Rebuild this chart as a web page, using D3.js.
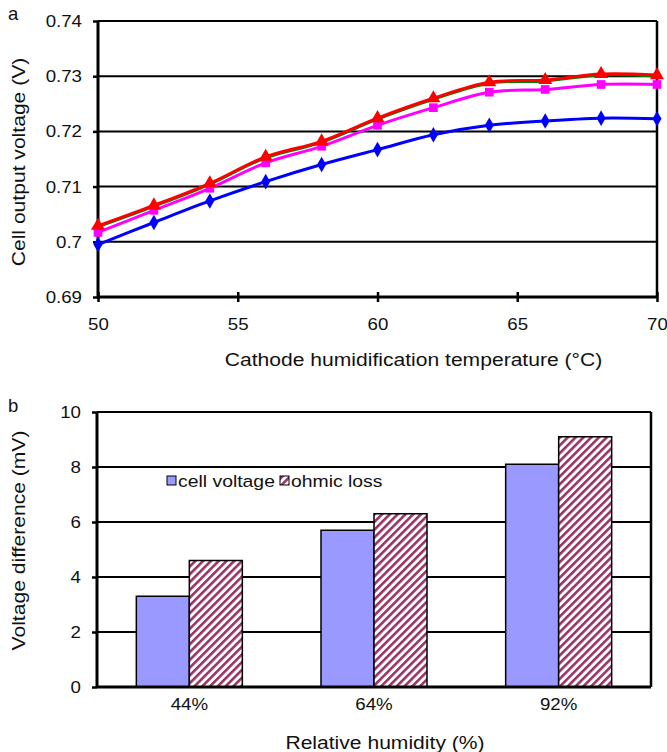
<!DOCTYPE html>
<html>
<head>
<meta charset="utf-8">
<script src="https://cdn.jsdelivr.net/npm/d3@7"></script>
<style>
  html, body { margin: 0; padding: 0; background: #fff; }
  svg { display: block; font-family: "Liberation Sans", Arial, sans-serif; }
</style>
</head>
<body>
<svg id="chart" width="667" height="752"></svg>
<script>
// Panel a: cell output voltage vs cathode humidification temperature
const temps = [50, 52, 54, 56, 58, 60, 62, 64, 66, 68, 70];
const voltBlue    = [0.6995, 0.7035, 0.7074, 0.7109, 0.7140, 0.7167, 0.7194, 0.7211, 0.7219, 0.7224, 0.7223];
const voltMagenta = [0.7017, 0.7057, 0.7097, 0.7143, 0.7173, 0.7211, 0.7243, 0.7271, 0.7276, 0.7285, 0.7285];
const voltGreen   = [0.7026, 0.7063, 0.7103, 0.7151, 0.7179, 0.7221, 0.7257, 0.7286, 0.7290, 0.7301, 0.7299];
const voltRed     = [0.7029, 0.7066, 0.7106, 0.7154, 0.7182, 0.7224, 0.7260, 0.7289, 0.7293, 0.7304, 0.7302];
const yTicksA = [0.69, 0.70, 0.71, 0.72, 0.73, 0.74];
const xTicksA = [50, 55, 60, 65, 70];

// Panel b: voltage difference vs relative humidity
const humidity = ["44%", "64%", "92%"];
const cellVoltage = [3.3, 5.7, 8.1];
const ohmicLoss = [4.6, 6.3, 9.1];
const yTicksB = [0, 2, 4, 6, 8, 10];
const seriesB = ["cell voltage", "ohmic loss"];

const FONT = "Liberation Sans, Arial, sans-serif";
const TICK_SIZE = 17, TITLE_SIZE = 18.5;
const TICK_K = 1.1, TITLE_K = 1.14;

const svg = d3.select("#chart");

// widen glyphs along the text direction, keeping the anchor point in place
function stretch(sel, k) {
  sel.each(function () {
    const t = d3.select(this);
    const x = +t.attr("x") || 0;
    t.attr("x", x / k).attr("transform", ((t.attr("transform") || "") + ` scale(${k},1)`).trim());
  });
}

// hatch pattern for ohmic loss bars
const defs = svg.append("defs");
const pat = defs.append("pattern")
  .attr("id", "hatch")
  .attr("patternUnits", "userSpaceOnUse")
  .attr("width", 5.5).attr("height", 5.5)
  .attr("patternTransform", "rotate(45)");
pat.append("rect").attr("width", 5.5).attr("height", 5.5).attr("fill", "#fff");
pat.append("rect").attr("x", 0).attr("y", 0).attr("width", 2.6).attr("height", 5.5).attr("fill", "#993366");

function styleAxis(ax) {
  ax.select(".domain").attr("stroke-width", 3);
  ax.selectAll(".tick line").attr("stroke-width", 2.5);
  ax.selectAll("text").attr("font-size", TICK_SIZE).attr("fill", "#111").attr("font-family", FONT);
  stretch(ax.selectAll("text"), TICK_K);
}

// ---------- Panel a ----------
const A = { left: 98, right: 657, top: 21, bottom: 297 };
const xA = d3.scaleLinear().domain([50, 70]).range([A.left, A.right]);
const yA = d3.scaleLinear().domain([0.69, 0.74]).range([A.bottom, A.top]);
const gA = svg.append("g");

// horizontal gridlines
gA.selectAll("line.grid").data(yTicksA.slice(1)).join("line")
  .attr("x1", A.left).attr("x2", A.right)
  .attr("y1", d => yA(d)).attr("y2", d => yA(d))
  .attr("stroke", "#000").attr("stroke-width", 2);
// right border
gA.append("line").attr("x1", A.right).attr("x2", A.right).attr("y1", A.top).attr("y2", A.bottom)
  .attr("stroke", "#000").attr("stroke-width", 2.5);

const axYA = gA.append("g").attr("transform", `translate(${A.left},0)`)
  .call(d3.axisLeft(yA).tickValues(yTicksA).tickSize(5).tickPadding(11)
    .tickFormat(d => String(+d.toFixed(2))));
const axXA = gA.append("g").attr("transform", `translate(0,${A.bottom})`)
  .call(d3.axisBottom(xA).tickValues(xTicksA).tickSize(5).tickPadding(16));
axXA.selectAll(".tick line").attr("y1", -5);
styleAxis(axYA);
styleAxis(axXA);
axYA.select(".domain").attr("d", `M0,${A.top}V${A.bottom}`);
axXA.select(".domain").attr("d", `M${A.left},0H${A.right}`);

const lineA = d3.line().x((d, i) => xA(temps[i])).y(d => yA(d)).curve(d3.curveCatmullRom.alpha(0.5));
const seriesA = [
  { vals: voltBlue, color: "#0000FF", shape: d3.symbolDiamond, size: 70 },
  { vals: voltMagenta, color: "#FF00FF", shape: d3.symbolSquare, size: 75 },
  { vals: voltGreen, color: "#008000", shape: null, size: 0 },
  { vals: voltRed, color: "#FF0000", shape: d3.symbolTriangle, size: 85 }
];
seriesA.forEach(s => {
  gA.append("path").datum(s.vals).attr("d", lineA)
    .attr("fill", "none").attr("stroke", s.color)
    .attr("stroke-width", s.shape ? 3 : 1.5);
  if (s.shape) {
    gA.selectAll(null).data(s.vals).join("path")
      .attr("transform", (d, i) => `translate(${xA(temps[i])},${yA(d)})`)
      .attr("d", d3.symbol().type(s.shape).size(s.size))
      .attr("fill", s.color);
  }
});

const titlesA = gA.append("g").attr("font-size", TITLE_SIZE).attr("fill", "#111");
titlesA.append("text").attr("x", 8).attr("y", 20).text("a");
const yTitleA = titlesA.append("text")
  .attr("transform", `translate(25,${(A.top + A.bottom) / 2 + 3}) rotate(-90)`)
  .attr("text-anchor", "middle").text("Cell output voltage (V)");
const xTitleA = titlesA.append("text").attr("x", (A.left + A.right) / 2 + 36).attr("y", 366)
  .attr("text-anchor", "middle").text("Cathode humidification temperature (°C)");
stretch(yTitleA, TITLE_K);
stretch(xTitleA, TITLE_K);

// ---------- Panel b ----------
const B = { left: 97, right: 651, top: 412, bottom: 687 };
const x0 = d3.scaleBand().domain(humidity).range([B.left, B.right]).paddingInner(0.426).paddingOuter(0.213);
const x1 = d3.scaleBand().domain(seriesB).range([0, x0.bandwidth()]);
const yB = d3.scaleLinear().domain([0, 10]).range([B.bottom, B.top]);
const gB = svg.append("g");

gB.selectAll("line.grid").data(yTicksB.slice(1)).join("line")
  .attr("x1", B.left).attr("x2", B.right)
  .attr("y1", d => yB(d)).attr("y2", d => yB(d))
  .attr("stroke", "#000").attr("stroke-width", 2);
gB.append("line").attr("x1", B.right).attr("x2", B.right).attr("y1", B.top).attr("y2", B.bottom)
  .attr("stroke", "#000").attr("stroke-width", 2.5);

const barData = humidity.map((h, i) => [
  { cat: h, key: "cell voltage", v: cellVoltage[i] },
  { cat: h, key: "ohmic loss", v: ohmicLoss[i] }
]).flat();
gB.selectAll("rect.bar").data(barData).join("rect")
  .attr("x", d => x0(d.cat) + x1(d.key))
  .attr("y", d => yB(d.v))
  .attr("width", x1.bandwidth())
  .attr("height", d => yB(0) - yB(d.v))
  .attr("fill", d => d.key === "cell voltage" ? "#9999FF" : "url(#hatch)")
  .attr("stroke", "#000").attr("stroke-width", 1.5);

const axYB = gB.append("g").attr("transform", `translate(${B.left},0)`)
  .call(d3.axisLeft(yB).tickValues(yTicksB).tickSize(5).tickPadding(11));
const axXB = gB.append("g").attr("transform", `translate(0,${B.bottom})`)
  .call(d3.axisBottom(x0).tickSize(0).tickPadding(11));
styleAxis(axYB);
styleAxis(axXB);
axYB.select(".domain").attr("d", `M0,${B.top}V${B.bottom}`);
axXB.select(".domain").attr("d", `M${B.left},0H${B.right}`);

// legend
const leg = gB.append("g").attr("transform", "translate(167,481)");
const legItems = [
  { label: "cell voltage", fill: "#9999FF", x: 0 },
  { label: "ohmic loss", fill: "url(#hatch)", x: 113 }
];
legItems.forEach(it => {
  leg.append("rect").attr("x", it.x).attr("y", -5).attr("width", 9).attr("height", 9)
    .attr("fill", it.fill).attr("stroke", "#000").attr("stroke-width", 1);
  const t = leg.append("text").attr("x", it.x + 11).attr("y", 6).attr("font-size", TICK_SIZE)
    .attr("fill", "#111").attr("letter-spacing", 0).text(it.label);
  stretch(t, TITLE_K);
});

const titlesB = gB.append("g").attr("font-size", TITLE_SIZE).attr("fill", "#111");
titlesB.append("text").attr("x", 8).attr("y", 412).text("b");
const yTitleB = titlesB.append("text")
  .attr("transform", `translate(25,${(B.top + B.bottom) / 2 - 9}) rotate(-90)`)
  .attr("text-anchor", "middle").text("Voltage difference (mV)");
const xTitleB = titlesB.append("text").attr("x", (B.left + B.right) / 2 + 11).attr("y", 749)
  .attr("text-anchor", "middle").text("Relative humidity (%)");
stretch(yTitleB, TITLE_K);
stretch(xTitleB, TITLE_K);
</script>
</body>
</html>
